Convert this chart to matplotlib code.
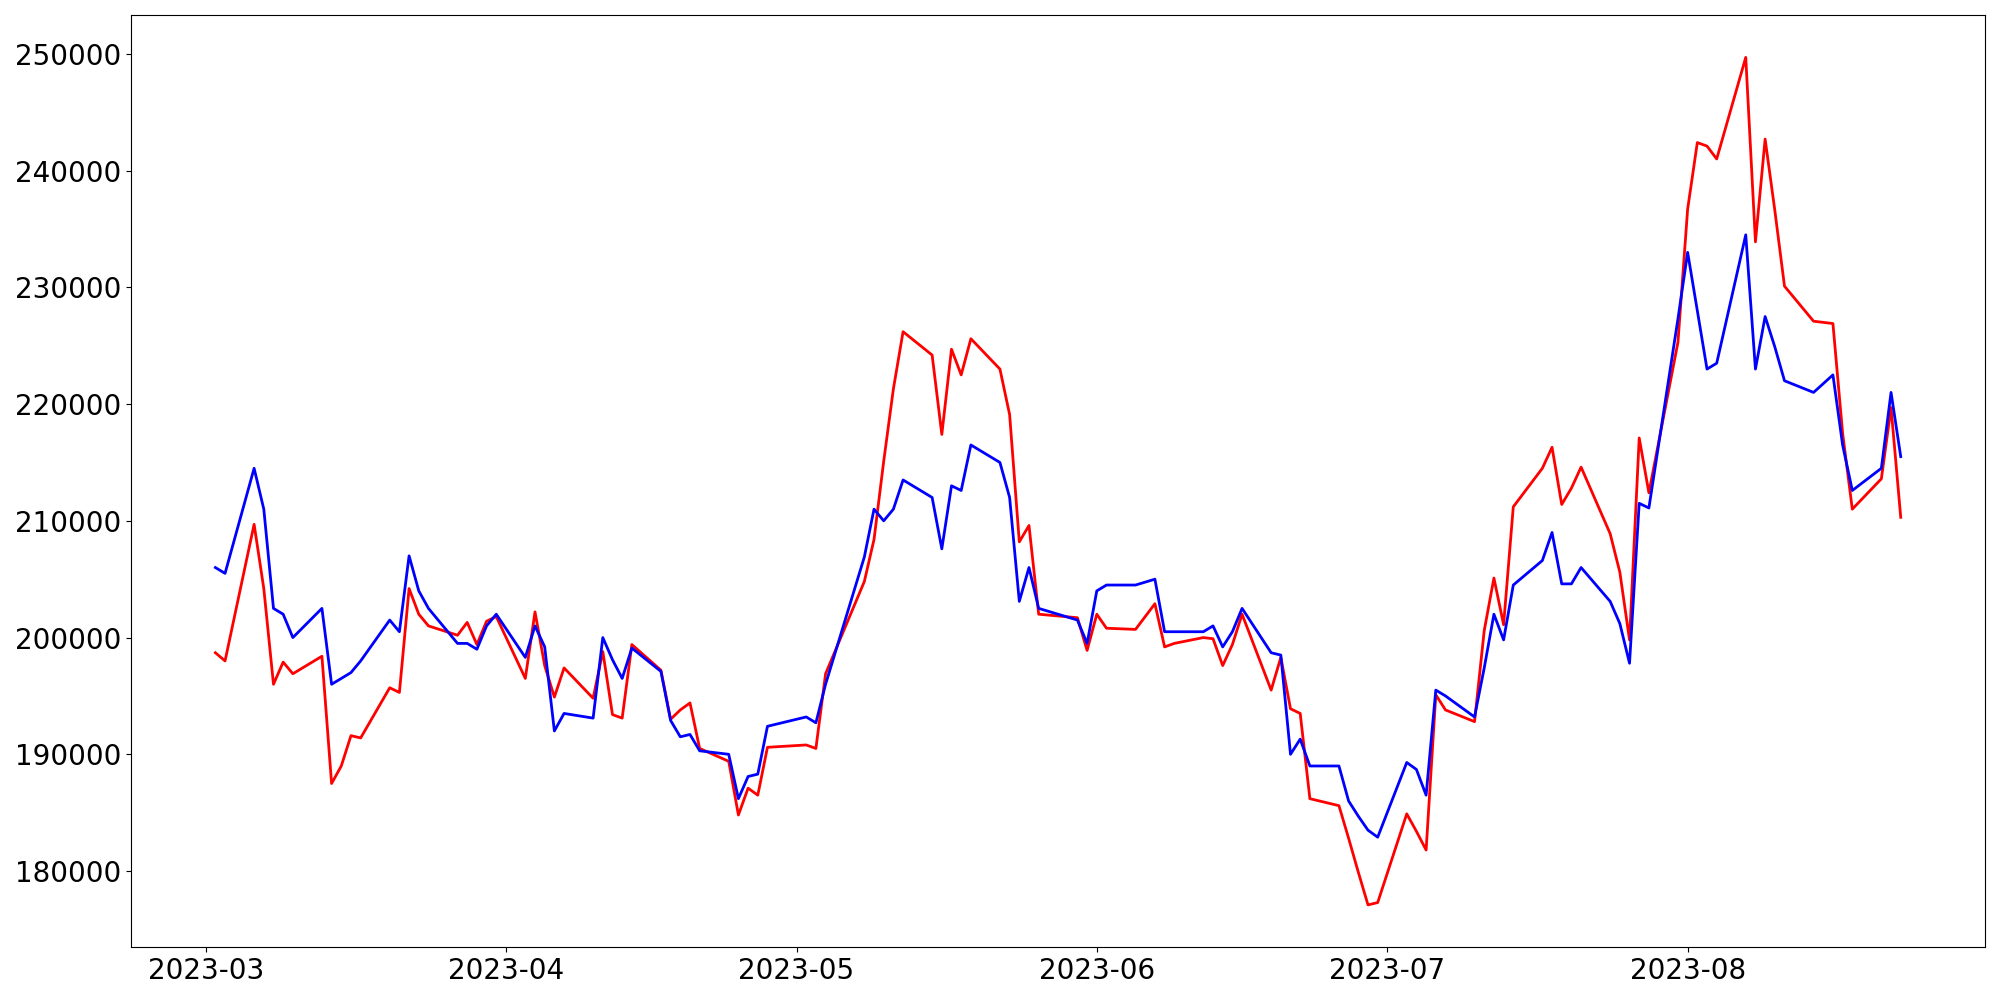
import numpy as np
import pandas as pd
import matplotlib
matplotlib.use("Agg")
import matplotlib.pyplot as plt

# Trading days (weekends and market holidays left out)
days_mar = [2, 3, 6, 7, 8, 9, 10, 13, 14, 15, 16, 17, 20, 21, 22, 23, 24, 27, 28, 29, 30, 31]
days_apr = [3, 4, 5, 6, 7, 10, 11, 12, 13, 14, 17, 18, 19, 20, 21, 24, 25, 26, 27, 28]
days_may = [2, 3, 4, 8, 9, 10, 11, 12, 15, 16, 17, 18, 19, 22, 23, 24, 25, 26, 30, 31]
days_jun = [1, 2, 5, 7, 8, 9, 12, 13, 14, 15, 16, 19, 20, 21, 22, 23, 26, 27, 28, 29, 30]
days_jul = [3, 4, 5, 6, 7, 10, 11, 12, 13, 14, 17, 18, 19, 20, 21, 24, 25, 26, 27, 28, 31]
days_aug = [1, 2, 3, 4, 7, 8, 9, 10, 11, 14, 16, 17, 18, 21, 22, 23]

# blue series
actual = [
    206000, 205500, 214500, 211000, 202500, 202000, 200000, 202500, 196000, 196500, 197000,
    198000, 201500, 200500, 207000, 204000, 202500, 199500, 199500, 199000, 201000, 202000,
    198300, 201000, 199200, 192000, 193500, 193100, 200000, 198100, 196500, 199100,
    197100, 192900, 191500, 191700, 190300, 190000, 186200, 188100, 188300, 192400,
    193200, 192700, 196000, 206900, 211000, 210000, 211000, 213500, 212000, 207600,
    213000, 212600, 216500, 215000, 212000, 203100, 206000, 202500, 201500, 199500,
    204000, 204500, 204500, 205000, 200500, 200500, 200500, 201000, 199200, 200500, 202500,
    198700, 198500, 190000, 191300, 189000, 189000, 186000, 184700, 183500, 182900,
    189300, 188700, 186500, 195500, 195000, 193200, 197400, 202000, 199800, 204500, 206600,
    209000, 204600, 204600, 206000, 203100, 201200, 197800, 211500, 211100, 227300,
    233000, 228000, 223000, 223500, 234500, 223000, 227500, 224900, 222000, 221000,
    222500, 216500, 212600, 214500, 221000, 215500,
]

# red series
predicted = [
    198700, 198000, 209700, 204200, 196000, 197900, 196900, 198400, 187500, 189000, 191600,
    191400, 195700, 195300, 204200, 202000, 201000, 200200, 201300, 199400, 201400, 201800,
    196500, 202200, 197600, 194900, 197400, 194800, 198800, 193400, 193100, 199400,
    197200, 193000, 193800, 194400, 190500, 189400, 184800, 187100, 186500, 190600,
    190800, 190500, 196900, 204800, 208400, 215100, 221300, 226200, 224200, 217400,
    224700, 222500, 225600, 223000, 219100, 208200, 209600, 202000, 201700, 198900,
    202000, 200800, 200700, 202900, 199200, 199500, 200000, 199900, 197600, 199400, 202000,
    195500, 198300, 193900, 193500, 186200, 185600, 182800, 179900, 177100, 177300,
    184900, 183400, 181800, 195100, 193800, 192800, 200600, 205100, 201100, 211200, 214500,
    216300, 211400, 212800, 214600, 208900, 205600, 199800, 217100, 212400, 225300,
    236700, 242400, 242100, 241000, 249700, 233900, 242700, 236600, 230100, 227100,
    226900, 217500, 211000, 213600, 219700, 210300,
]

if __name__ == "__main__":
    months = [(3, days_mar), (4, days_apr), (5, days_may), (6, days_jun), (7, days_jul), (8, days_aug)]
    dates = pd.to_datetime(["2023-%02d-%02d" % (m, d) for m, ds in months for d in ds])

    fig, ax = plt.subplots(figsize=(20, 10), dpi=100)
    ax.plot(dates, predicted, color="red", linewidth=2)
    ax.plot(dates, actual, color="blue", linewidth=2)
    ax.tick_params(labelsize=20)

    fig.tight_layout()
    fig.savefig("out.png")
